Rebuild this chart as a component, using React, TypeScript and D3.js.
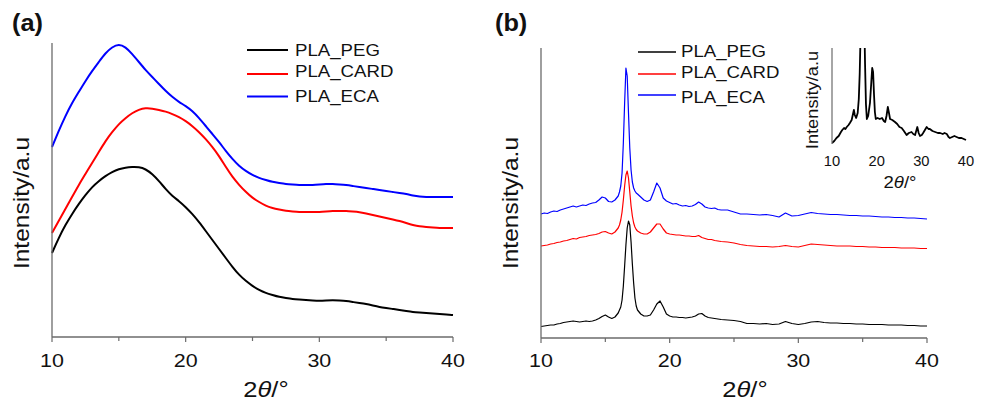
import React from "react";
import * as d3 from "d3";

// ---------- data ----------
// (a) amorphous halo, intensity in arbitrary units
const angleA = [
  10, 10.5, 11, 11.5, 12, 12.5, 13, 13.5, 14, 14.5,
  15, 15.5, 16, 16.5, 17, 17.5, 18, 18.5, 19, 19.5,
  20, 20.5, 21, 21.5, 22, 22.5, 23, 23.5, 24, 24.5,
  25, 25.5, 26, 26.5, 27, 27.5, 28, 28.5, 29, 29.5,
  30, 30.5, 31, 31.5, 32, 32.5, 33, 33.5, 34, 34.5,
  35, 35.5, 36, 36.5, 37, 37.5, 38, 38.5, 39, 39.5, 40,
];
const pegA = [
  84, 99, 112, 123, 133, 142, 150, 156, 161, 165,
  168, 169.5, 170, 170, 168, 163, 156, 148, 141, 136,
  130, 123, 115, 106, 97, 88, 79, 70, 62, 56,
  51, 47, 44, 42, 40, 39, 38, 37.5, 37, 36.5,
  36, 36.5, 37, 36.5, 36, 35, 34, 33, 31.5, 30,
  29, 28, 27, 26, 25, 24.5, 24, 23.5, 23, 22.5, 22,
];
const cardA = [
  104, 116, 128, 140, 152, 163, 174, 185, 196, 205,
  213, 219, 224, 227.5, 229, 228.5, 227, 225.5, 223, 220,
  216, 211, 205, 198, 190, 181, 170, 160, 152, 145,
  139, 135, 131, 129, 127.5, 126, 125.5, 125, 125, 125,
  125, 125.5, 126, 126, 126, 125.5, 125, 123.5, 122, 120.5,
  119, 117.5, 116, 114, 112, 110.5, 110, 109.5, 109, 109, 109,
];
const ecaA = [
  190, 206, 221, 234, 245, 256, 266, 275, 284, 290,
  293, 290, 283, 275, 267, 260, 253, 246, 240, 235,
  231, 226, 219, 211, 203, 195, 186, 178, 171, 166,
  162, 159, 157, 155, 154, 153, 152.5, 152, 152, 152,
  152.5, 153, 153, 152.5, 152, 151, 150, 149, 148, 147,
  146, 145, 144, 143, 141.5, 140.5, 140, 140, 140, 140, 140,
];

// (b) crystalline patterns, intensity in arbitrary units
const angleB = [
  10, 10.25, 10.5, 10.75, 11, 11.25, 11.5, 11.75, 12, 12.25, 12.5, 12.75,
  13, 13.25, 13.5, 13.75, 14, 14.25, 14.5, 14.75, 15, 15.25, 15.5, 15.75,
  16, 16.1, 16.2, 16.3, 16.4, 16.5, 16.6, 16.7, 16.8, 16.9, 17, 17.1, 17.2, 17.3, 17.4, 17.5,
  17.75, 18, 18.25, 18.5, 18.75, 19, 19.25, 19.5, 19.75, 20, 20.25, 20.5, 20.75,
  21, 21.25, 21.5, 21.75, 22, 22.25, 22.5, 22.75, 23, 23.25, 23.5, 23.75, 24,
  24.5, 25, 25.5, 26, 26.5, 27, 27.5, 28, 28.5, 29, 29.5, 30, 30.5, 31, 31.5, 32,
  32.5, 33, 33.5, 34, 34.5, 35, 35.5, 36, 36.5, 37, 37.5, 38, 38.5, 39, 39.5, 40,
];
const pegB = [
  11.5, 12, 12.5, 13, 13, 14, 14.5, 15.5, 16, 16.5, 17, 16.5,
  16, 16.5, 17, 16.5, 17, 18, 19.5, 21.5, 23, 21, 19.5, 21,
  25, 28, 31, 38, 52, 72, 93, 110, 117, 113, 96, 74, 55, 40, 32, 28,
  24, 22, 22, 23, 28, 34, 37, 31, 24, 22, 21, 21, 20.5,
  20.5, 20, 20.5, 21, 22, 24, 24.5, 22, 20.5, 20, 19.5, 19, 18.5,
  18, 17.5, 16.5, 14.5, 14.5, 14, 14.5, 13.5, 14, 16.5, 14.5, 13.5, 14.5, 16, 16.5, 15.5,
  15, 15, 14.5, 14.5, 14, 14, 13.5, 13.5, 13.5, 13, 13, 13, 12.5, 12.5, 12, 12,
];
const cardB = [
  92, 92.5, 93, 94, 94.5, 95.5, 96, 97, 97.5, 98.5, 99.5, 99,
  100.5, 101, 101.5, 102.5, 103, 103.5, 104.5, 106, 106.5, 105, 104, 106,
  110, 113, 118, 126, 138, 152, 163, 167, 160, 146, 132, 122, 115, 111, 108.5, 107,
  105, 104, 104, 106, 110, 114, 114, 109, 105, 104, 103.5, 103, 103,
  102.5, 102, 102, 101.5, 101.5, 102.5, 100.5, 99.5, 98.5, 98.5, 97.5, 97, 96.5,
  96, 95, 93.5, 92.5, 92, 91.5, 91.5, 91, 91.5, 92.5, 91.5, 91, 92.5, 94, 93.5, 93,
  92.5, 92, 92, 92, 91.5, 91.5, 91, 91, 90.5, 90.5, 90.5, 90, 90, 90, 89.5, 89.5,
];
const ecaB = [
  124, 125, 124.5, 126, 127, 126.5, 128, 129, 130, 131, 132, 131,
  132, 133, 132.5, 134, 135, 135.5, 138, 141, 140, 136.5, 136, 138,
  142, 146, 152, 165, 195, 235, 270, 262, 225, 190, 168, 156, 150, 147, 145, 144,
  141, 138, 136.5, 138, 146, 155, 150, 140, 137, 135.5, 134, 134.5, 133,
  132, 132.5, 131.5, 132, 133.5, 136, 134, 131, 130, 129.5, 130, 128.5, 128,
  128, 126, 124, 124, 123.5, 123, 123.5, 122.5, 121, 125, 122, 122.5, 124, 125.5, 124.5, 124,
  123.5, 123.5, 123, 122.5, 122.5, 122, 122, 121.5, 121, 121, 120.5, 120.5, 120, 120, 119.5, 119,
];

// inset: enlarged pattern, main reflection runs off the top
const insetAngle = [
  10, 10.5, 11, 11.5, 12, 12.3, 12.7, 13, 13.3, 13.7, 14, 14.4, 14.7, 14.9, 15.1, 15.4,
  15.75, 16, 16.2, 16.4, 16.6, 16.9, 17.2, 17.4, 17.6, 17.8, 18.1, 18.5, 18.8, 19, 19.2,
  19.4, 19.6, 19.8, 20.2, 20.7, 21.2, 21.6, 21.9, 22.2, 22.5, 22.8, 23, 23.5, 24.1, 24.6,
  25.1, 25.6, 26.1, 26.7, 27.2, 27.8, 28.2, 28.6, 29.1, 29.4, 29.7, 30.1, 30.4, 30.8,
  31.2, 31.6, 31.9, 32.5, 33.1, 33.7, 34.2, 34.8, 35.2, 35.7, 36.1, 36.4, 36.9, 37.4,
  37.9, 38.4, 39, 39.5, 40,
];
const insetIntensity = [
  1, 3, 6, 8, 12, 14, 16, 15, 17, 19, 21, 24, 30, 34, 29, 26,
  31, 45, 70, 110, 150, 170, 130, 80, 40, 25, 28, 41, 62, 76, 72,
  50, 32, 25, 26, 25, 26, 23, 22, 28, 37, 30, 25, 24, 22, 20,
  17, 16, 13, 9, 11, 12, 10, 9, 17, 11, 8, 9, 11, 14,
  17, 15, 15, 13, 12, 11, 11, 10, 11, 10, 7, 6, 7, 8,
  7, 6, 6, 5, 4,
];

const seriesNames = ["PLA_PEG", "PLA_CARD", "PLA_ECA"];
const seriesColors = ["#000000", "#ff0000", "#0000ff"];
const xTicks = [10, 15, 20, 25, 30, 35, 40];
const xTickLabels = ["10", "20", "30", "40"];

// ---------- styling ----------
const FONT = '"Liberation Sans", Arial, Helvetica, sans-serif';
const AXIS = "#6b6b6b";
const WIDE = 1.16;

type TxtProps = {
  x: number;
  y: number;
  size: number;
  anchor?: "start" | "middle" | "end";
  rotate?: number;
  sx?: number;
  weight?: string;
  children: React.ReactNode;
};

function Txt({ x, y, size, anchor = "middle", rotate = 0, sx = WIDE, weight = "normal", children }: TxtProps) {
  const tf = `translate(${x},${y})${rotate ? ` rotate(${rotate})` : ""} scale(${sx},1)`;
  return (
    <text
      transform={tf}
      textAnchor={anchor}
      fontSize={size}
      fontWeight={weight}
      fontFamily={FONT}
      fill="#111"
    >
      {children}
    </text>
  );
}

function XTitle({ x, y, size }: { x: number; y: number; size: number }) {
  return (
    <Txt x={x} y={y} size={size}>
      2<tspan fontStyle="italic">θ</tspan>/°
    </Txt>
  );
}

type PanelProps = {
  left: number;
  right: number;
  top: number;
  bottom: number;
  yMax: number;
  angles: number[];
  values: number[][];
  width: number;
  smooth: boolean;
};

function Panel({ left, right, top, bottom, yMax, angles, values, width, smooth }: PanelProps) {
  const x = d3.scaleLinear().domain([10, 40]).range([left, right]);
  const y = d3.scaleLinear().domain([0, yMax]).range([bottom, top]);
  const line = d3
    .line<number>()
    .x((_, i) => x(angles[i]))
    .y((v) => y(v))
    .curve(smooth ? d3.curveBasis : d3.curveLinear);
  return (
    <g>
      {values.map((vals, k) => (
        <path
          key={k}
          d={line(vals) ?? ""}
          fill="none"
          stroke={seriesColors[k]}
          strokeWidth={width}
          strokeLinejoin="round"
        />
      ))}
      <line x1={left} x2={left} y1={top} y2={bottom} stroke={AXIS} strokeWidth={1.3} />
      <line x1={left} x2={right} y1={bottom} y2={bottom} stroke={AXIS} strokeWidth={1.3} />
      {xTicks.map((t) => (
        <line
          key={t}
          x1={x(t)}
          x2={x(t)}
          y1={bottom}
          y2={bottom + (t % 10 === 0 ? 5 : 4)}
          stroke={AXIS}
          strokeWidth={1.2}
        />
      ))}
      {xTickLabels.map((s) => (
        <Txt key={s} x={x(+s)} y={367} size={18.5}>
          {s}
        </Txt>
      ))}
    </g>
  );
}

function Legend({ x1, x2, tx, lineYs, textYs, width }: { x1: number; x2: number; tx: number; lineYs: number[]; textYs: number[]; width: number }) {
  return (
    <g>
      {seriesNames.map((n, k) => (
        <g key={n}>
          <line x1={x1} x2={x2} y1={lineYs[k]} y2={lineYs[k]} stroke={seriesColors[k]} strokeWidth={width} />
          <Txt x={tx} y={textYs[k]} size={16.5} anchor="start" sx={1.13}>
            {n}
          </Txt>
        </g>
      ))}
    </g>
  );
}

function Inset() {
  const left = 832;
  const right = 966;
  const top = 48;
  const bottom = 144;
  const x = d3.scaleLinear().domain([10, 40]).range([left, right]);
  const y = d3.scaleLinear().domain([0, 96]).range([bottom, top]);
  const line = d3
    .line<number>()
    .x((_, i) => x(insetAngle[i]))
    .y((v) => y(v));
  return (
    <g>
      <defs>
        <clipPath id="inset-clip">
          <rect x={left} y={top} width={right - left + 2} height={bottom - top + 4} />
        </clipPath>
      </defs>
      <path
        d={line(insetIntensity) ?? ""}
        fill="none"
        stroke="#000"
        strokeWidth={1.8}
        strokeLinejoin="round"
        clipPath="url(#inset-clip)"
      />
      <line x1={left} x2={left} y1={top} y2={bottom} stroke={AXIS} strokeWidth={1.2} />
      {xTickLabels.map((s) => (
        <Txt key={s} x={x(+s)} y={166} size={14} sx={1.05}>
          {s}
        </Txt>
      ))}
      <XTitle x={900} y={188} size={16} />
      <Txt x={818} y={100} size={16} rotate={-90} sx={1.14}>
        Intensity/a.u
      </Txt>
    </g>
  );
}

export default function App() {
  return (
    <svg
      width={982}
      height={402}
      viewBox="0 0 982 402"
      style={{ position: "absolute", left: 0, top: 0, background: "#fff" }}
    >
      <rect width={982} height={402} fill="#fff" />

      {/* panel (a) */}
      <Txt x={12} y={31} size={23} weight="bold" anchor="start" sx={1.1}>
        (a)
      </Txt>
      <Panel
        left={52}
        right={453}
        top={43}
        bottom={337}
        yMax={294}
        angles={angleA}
        values={[pegA, cardA, ecaA]}
        width={2}
        smooth={true}
      />
      <Legend x1={247} x2={288} tx={295} lineYs={[50, 74, 96.5]} textYs={[56, 77, 102]} width={2.2} />
      <Txt x={29} y={203} size={21.5} rotate={-90} sx={1.14}>
        Intensity/a.u
      </Txt>
      <XTitle x={266} y={397} size={22} />

      {/* panel (b) */}
      <Txt x={495} y={31} size={23} weight="bold" anchor="start" sx={1.1}>
        (b)
      </Txt>
      <Panel
        left={541}
        right={927}
        top={48}
        bottom={338}
        yMax={290}
        angles={angleB}
        values={[pegB, cardB, ecaB]}
        width={1.2}
        smooth={false}
      />
      <Legend x1={638} x2={676} tx={681} lineYs={[52, 74, 95]} textYs={[57, 78, 103]} width={1.3} />
      <Txt x={518} y={203} size={21.5} rotate={-90} sx={1.14}>
        Intensity/a.u
      </Txt>
      <XTitle x={745} y={397} size={22} />

      <Inset />
    </svg>
  );
}
